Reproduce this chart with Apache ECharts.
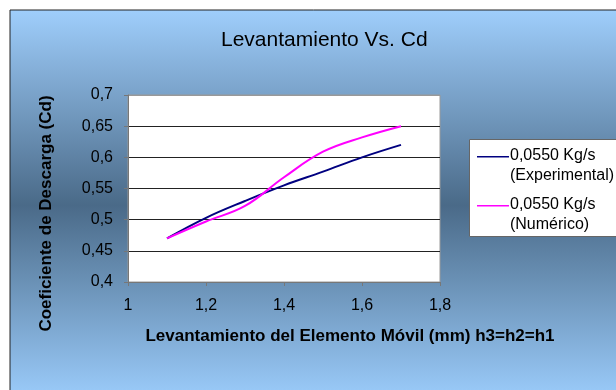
<!DOCTYPE html>
<html>
<head>
<meta charset="utf-8">
<script src="https://cdn.jsdelivr.net/npm/echarts@6/dist/echarts.min.js"></script>
<style>html,body{margin:0;padding:0;background:#fff}#c{width:616px;height:390px}</style>
</head>
<body>
<div id="c"></div>
<script>
var lift = [1.1, 1.2, 1.3, 1.4, 1.5, 1.6, 1.7];
var cdExperimental = [0.47, 0.503, 0.53, 0.555, 0.577, 0.60, 0.62];
var cdNumerico = [0.47, 0.497, 0.522, 0.568, 0.609, 0.632, 0.65];
var seriesNames = ['0,0550 Kg/s\n(Experimental)', '0,0550 Kg/s\n(Numérico)'];
var titleText = 'Levantamiento Vs. Cd';
var xTitle = 'Levantamiento del Elemento Móvil (mm) h3=h2=h1';
var yTitle = 'Coeficiente de Descarga (Cd)';

function pairs(xs, ys){ return xs.map(function(x,i){ return [x, ys[i]]; }); }
function comma(v){ return String(Math.round(v*100)/100).replace('.', ','); }

var chart = echarts.init(document.getElementById('c'), null, {renderer:'canvas'});
var font = '"Liberation Sans", Arial, sans-serif';
chart.setOption({
  animation: false,
  textStyle: {fontFamily: font},
  graphic: [
    {type:'rect', z:-10, shape:{x:10, y:10, width:620, height:390},
     style:{fill:{type:'linear', x:0, y:0, x2:0, y2:1, colorStops:[
       {offset:0, color:'#9fcefc'}, {offset:0.5, color:'#4a6a88'}, {offset:1, color:'#9ccdfc'}]},
       stroke:'#222', lineWidth:1}},
    {type:'rect', z:-5, shape:{x:469.5, y:139.5, width:160, height:97},
     style:{fill:'#ffffff', stroke:'#666', lineWidth:1}}
  ],
  title: {text: titleText, left: 216, top: 25,
    textStyle:{fontFamily: font, fontSize: 21, fontWeight:'normal', color:'#000'}},
  legend: {
    orient:'vertical', left: 472, top: 141, itemGap: 9,
    itemWidth: 32, itemHeight: 20,
    data: [
      {name: seriesNames[0], icon:'path://M0,0L32,0L32,1.6L0,1.6Z M0,20L0.01,20L0.01,20.01Z'},
      {name: seriesNames[1], icon:'path://M0,0L32,0L32,1.6L0,1.6Z M0,20L0.01,20L0.01,20.01Z'}
    ],
    itemStyle:{borderWidth:0},
    textStyle:{fontFamily: font, fontSize: 16, color:'#000', lineHeight: 20, padding:[0,0,0,-4]}
  },
  grid: {left:128, right:176, top:95, bottom:108, show:true, backgroundColor:'#fff', borderColor:'#999', borderWidth:1},
  xAxis: {
    type:'value', min:1, max:1.8, interval:0.2,
    name: xTitle, nameLocation:'middle', nameGap: 46,
    nameTextStyle:{fontFamily: font, fontSize:17, fontWeight:'bold', color:'#000', padding:[0,0,0,132]},
    axisLine:{show:true, lineStyle:{color:'#777', width:1}},
    axisTick:{show:true, inside:false, length:4, lineStyle:{color:'#777'}},
    axisLabel:{margin:16, fontSize:16, color:'#000', fontFamily: font, formatter: comma},
    splitLine:{show:false}
  },
  yAxis: {
    type:'value', min:0.4, max:0.7, interval:0.05,
    name: yTitle, nameLocation:'middle', nameGap: 73, nameRotate: 90,
    nameTextStyle:{fontFamily: font, fontSize:17, fontWeight:'bold', color:'#000', padding:[0,50,0,0]},
    axisLine:{show:true, lineStyle:{color:'#777', width:1}},
    axisTick:{show:true, inside:false, length:4, lineStyle:{color:'#777'}},
    axisLabel:{margin:15, fontSize:16, color:'#000', fontFamily: font, formatter: comma},
    splitLine:{show:true, lineStyle:{color:['#777','#222','#222','#222','#222','#222','#999'], width:1}}
  },
  series: [
    {name: seriesNames[0], type:'line', data: pairs(lift, cdExperimental), smooth:0.4, symbol:'none',
     color:'#000080', lineStyle:{color:'#000080', width:2}},
    {name: seriesNames[1], type:'line', data: pairs(lift, cdNumerico), smooth:0.4, symbol:'none',
     color:'#ff00ff', lineStyle:{color:'#ff00ff', width:2}}
  ]
});
</script>
</body>
</html>
